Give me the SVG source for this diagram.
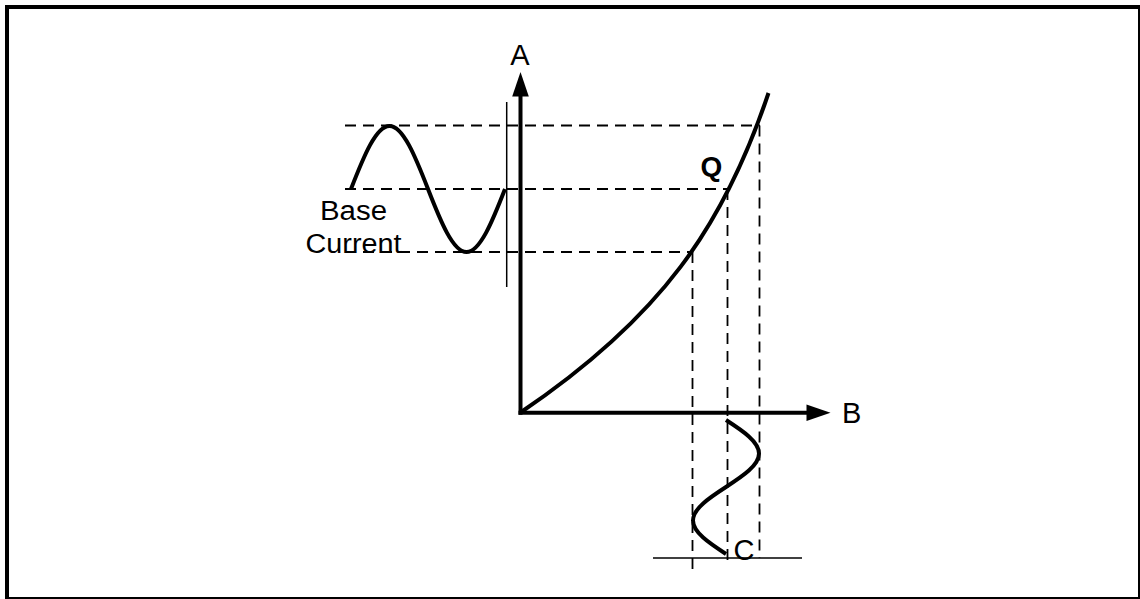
<svg xmlns="http://www.w3.org/2000/svg" width="1140" height="599" viewBox="0 0 1140 599">
  <style>
    .frame { fill: #ffffff; stroke: #000000; stroke-width: 4; }
    .thick { fill: none; stroke: #000000; stroke-width: 4; stroke-linecap: butt; }
    .axis { fill: none; stroke: #000000; stroke-width: 4; }
    .thin { fill: none; stroke: #000000; stroke-width: 1.5; }
    .dash { fill: none; stroke: #000000; stroke-width: 1.8; stroke-dasharray: 11 7; }
    .head { fill: #000000; stroke: none; }
    .lbl { font-family: "Liberation Sans", Arial, sans-serif; font-size: 29px; fill: #000000; }
    .bl { font-family: "Liberation Sans", Arial, sans-serif; font-size: 27px; fill: #000000; }
    .q { font-family: "Liberation Sans", Arial, sans-serif; font-size: 28px; font-weight: bold; fill: #000000; }
  </style>
  <rect class="frame" x="7" y="7" width="1133" height="592"/>

  <g id="guides">
    <line class="dash" x1="345" y1="125.5" x2="760" y2="125.5"/>
    <line class="dash" x1="345" y1="189" x2="727" y2="189"/>
    <line class="dash" x1="345" y1="252" x2="693" y2="252"/>
    <line class="dash" x1="692.5" y1="252" x2="692.5" y2="569"/>
    <line class="dash" x1="727.5" y1="189" x2="727.5" y2="562"/>
    <line class="dash" x1="759.5" y1="125.5" x2="759.5" y2="558"/>
  </g>

  <g id="connectors">
    <line class="axis" x1="520.5" y1="414.7" x2="520.5" y2="95"/>
    <polygon class="head" points="520.5,72 512.2,96.5 528.8,96.5"/>
    <line class="axis" x1="518.5" y1="412.7" x2="808" y2="412.7"/>
    <polygon class="head" points="830.5,412.7 806.5,404.4 806.5,421"/>
    <line class="thin" x1="506.7" y1="102" x2="506.7" y2="287"/>
    <line class="thin" x1="653" y1="558" x2="802" y2="558"/>
  </g>

  <g id="transfer-curve">
    <path class="thick" d="M520.5,412.5 C661.3,317.3 723.8,225.9 768.5,93"/>
  </g>

  <g id="input-wave">
    <path class="thick" d="M351,189 C363.56,156.73 375.97,126 389.5,126 S415.44,156.73 428,189 S452.97,252 466.5,252 S492.44,221.27 505,189"/>
  </g>

  <g id="output-wave">
    <path class="thick" d="M726,420 C742.9,430.93 759,441.73 759,453.5 S742.9,476.07 726,487 S693,508.73 693,520.5 S709.1,543.07 726,554"/>
  </g>

  <g id="labels">
    <text class="lbl" x="520" y="65" text-anchor="middle">A</text>
    <text class="lbl" x="842" y="423">B</text>
    <text class="lbl" x="733.5" y="559.5">C</text>
    <text class="q" x="700.5" y="176">Q</text>
    <text class="bl" x="320" y="220" textLength="67" lengthAdjust="spacingAndGlyphs">Base</text>
    <text class="bl" x="305.5" y="253" textLength="96" lengthAdjust="spacingAndGlyphs">Current</text>
  </g>
</svg>
